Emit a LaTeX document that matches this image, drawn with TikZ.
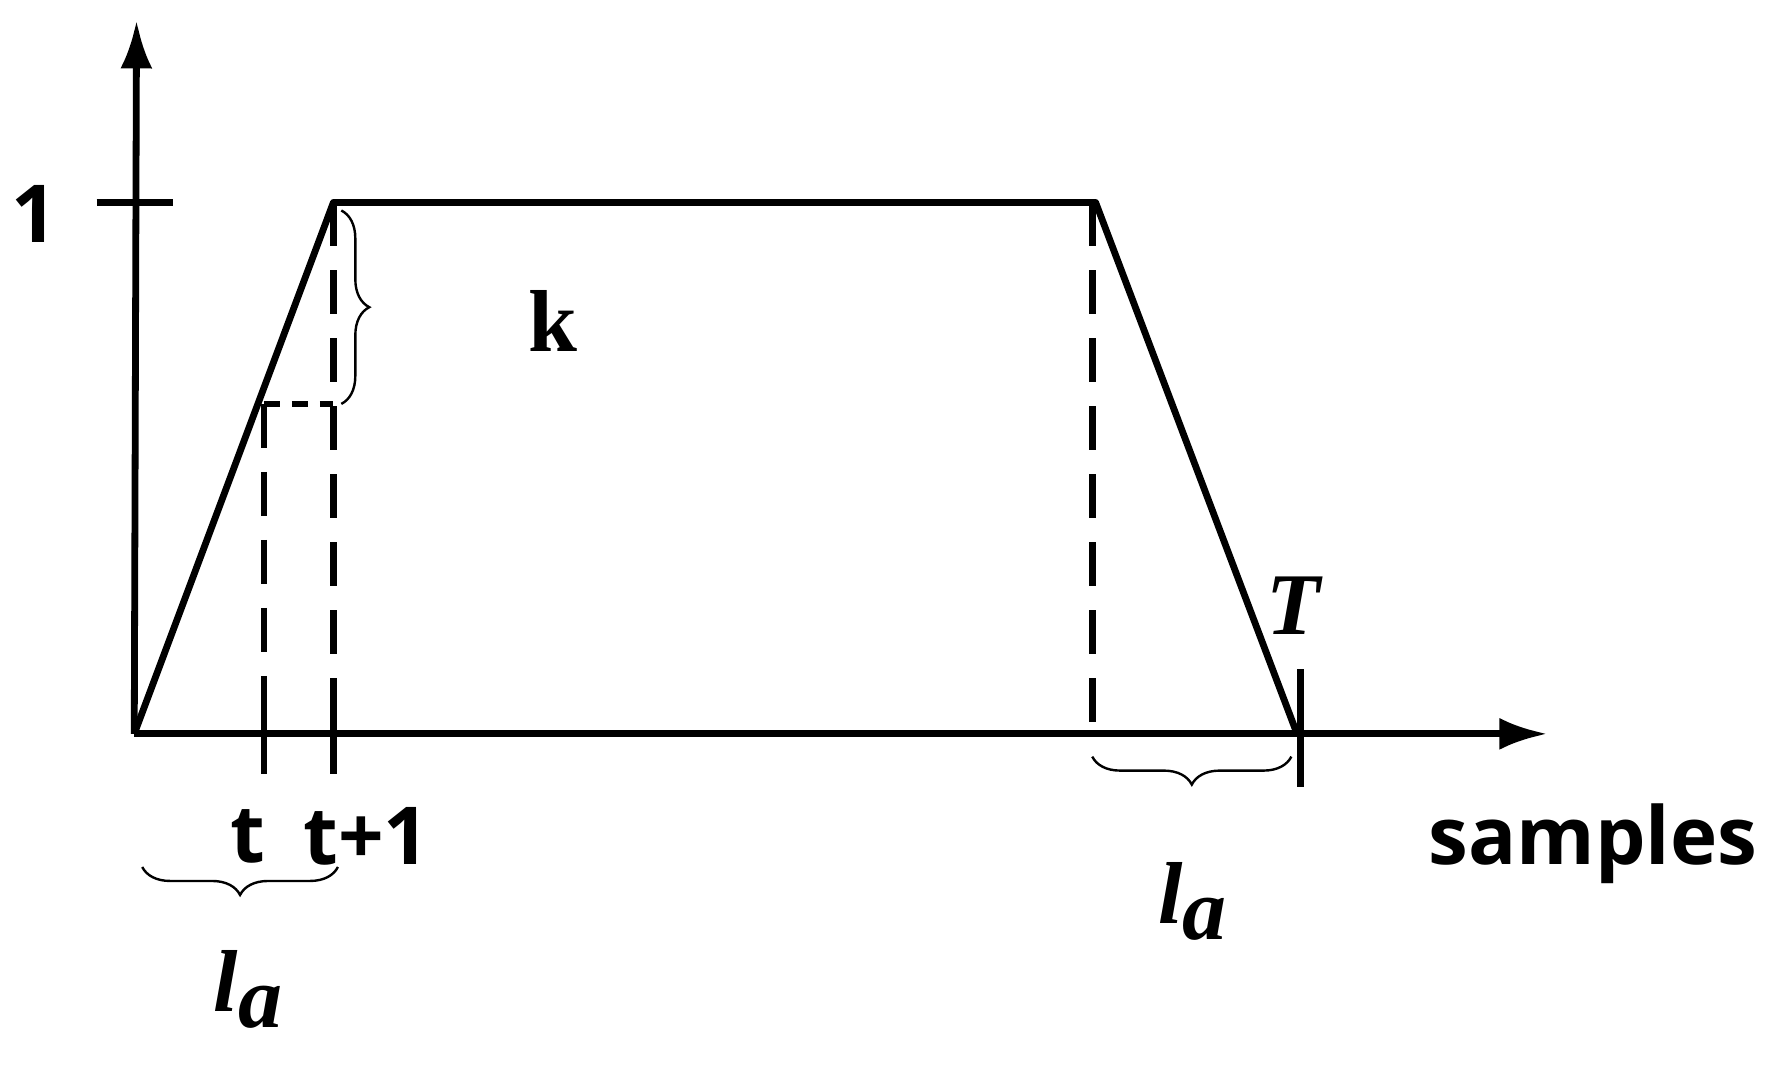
\documentclass[tikz,border=0pt]{standalone}
\usepackage{fontspec}
\setmainfont{Liberation Serif}
\newfontfamily\sansb{Open Sans}
\usetikzlibrary{decorations.pathreplacing,arrows.meta}
\tikzset{
 thick line/.style={line width=3.4pt},
 dashline/.style={line width=3.4pt,dash pattern=on 22pt off 12pt},
 brc/.style={decorate,decoration={brace,amplitude=14pt},line width=1.2pt},
 lbl/.style={font=\sansb\fontsize{40}{40}\selectfont\bfseries},
 mlbl/.style={font=\fontsize{44}{44}\selectfont\bfseries\itshape}
}
\begin{document}
\begin{tikzpicture}[x=0.02cm,y=-0.02cm]
\useasboundingbox (0,0) rectangle (1568,936);
\coordinate (O) at (118,645);
\coordinate (A) at (293,178);
\coordinate (B) at (963,178);
\coordinate (C) at (1140,645);
\coordinate (Y) at (120,18);
\coordinate (X) at (1360,645);
\draw[thick line,-{Latex[length=24pt,width=16pt]}] (O) -- (Y);
\draw[thick line,-{Latex[length=24pt,width=16pt]}] (O) -- (X);
\draw[thick line] (85,178) -- (152,178);
\node[lbl] (one) at (30,188) {1};
\draw[thick line,line join=round] (O) -- (A) -- (B) -- (C);
\coordinate (P) at (232,355);
\coordinate (Q) at (293,355);
\coordinate (Pb) at (232,645);
\coordinate (Ab) at (293,645);
\draw[dashline] (A) -- (Ab);
\draw[dashline] (P) -- (Pb);
\draw[dashline] (960,178) -- (960,645);
\draw[line width=3.4pt,dash pattern=on 8pt off 6pt] (P) -- (Q);
\draw[thick line] (232,608) -- (232,680);
\draw[thick line] (293,608) -- (293,680);
\draw[thick line] (1143,588) -- (1143,692);
\draw[brc] (300,185) -- (300,355) node[midway,xshift=0pt] (dk) {};
\node[font=\fontsize{44}{44}\selectfont\bfseries,anchor=west] (dklbl) at (398,282) {$\mathbf{\Delta}$k};
\node[mlbl] (T) at (1137,532) {T};
\node[lbl] (t) at (218,735) {t};
\node[lbl] (t1) at (322,735) {t+1};
\draw[brc] (297,762) -- (125,762);
\node[mlbl] (la1) at (218,870) {l\raisebox{-8pt}{a}};
\draw[brc] (1135,665) -- (960,665);
\node[mlbl] (la2) at (1048,792) {l\raisebox{-8pt}{a}};
\node[lbl] (s) at (1400,742) {samples};
\end{tikzpicture}
\end{document}
